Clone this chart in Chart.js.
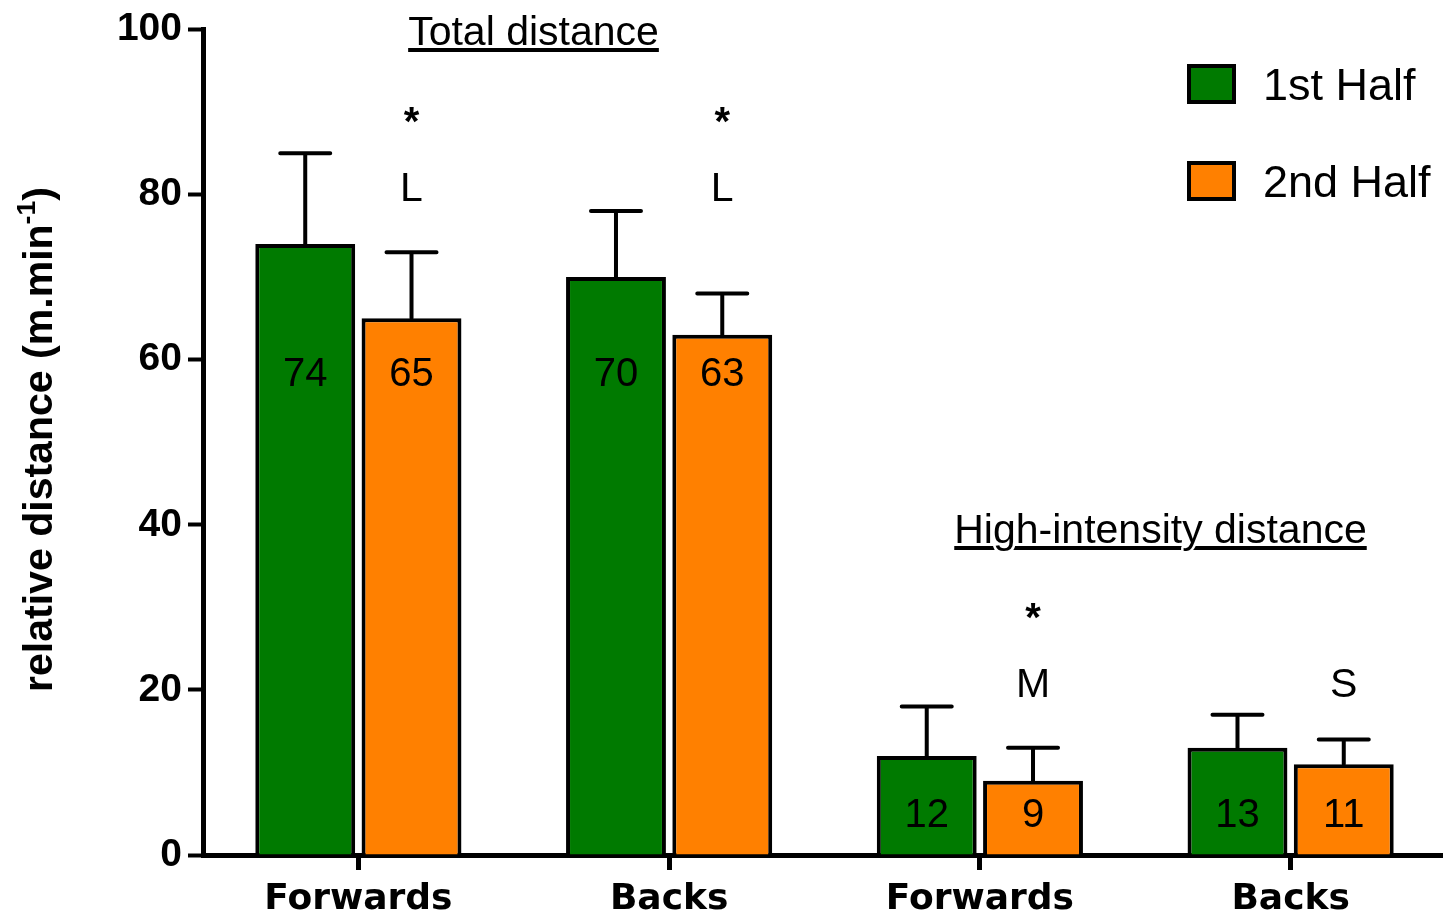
<!DOCTYPE html>
<html><head><meta charset="utf-8">
<script src="https://cdn.jsdelivr.net/npm/chart.js@4.4.0/dist/chart.umd.min.js"></script>
<style>html,body{margin:0;padding:0;background:#fff;overflow:hidden;width:1443px;height:915px}#wrap{width:1446px;height:915px}</style>
</head><body><div id="wrap"><canvas id="c" width="1446" height="915"></canvas></div>
<script>
const categories = ['Forwards', 'Backs', 'Forwards', 'Backs'];
const seriesNames = ['1st Half', '2nd Half'];
const firstHalf = [74, 70, 12, 13];
const secondHalf = [65, 63, 9, 11];
const firstHalfErr = [11, 8, 6, 4];
const secondHalfErr = [8, 5, 4, 3];
const yTicks = [0, 20, 40, 60, 80, 100];
const groupTitles = ['Total distance', 'High-intensity distance'];
const annotations = [['*', 'L'], ['*', 'L'], ['*', 'M'], ['S']];
const yTitle = 'relative distance (m.min';
const yTitleSup = '-1';

const errs = [firstHalfErr, secondHalfErr];
const GREEN = 'rgb(0,122,0)';
const ORANGE = 'rgb(255,128,0)';

const custom = {
  id: 'custom',
  afterDatasetsDraw(chart) {
    const ctx = chart.ctx, ys = chart.scales.y;
    ctx.save();
    // error bars
    chart.data.datasets.forEach((ds, di) => {
      const meta = chart.getDatasetMeta(di);
      meta.data.forEach((bar, i) => {
        const top = ys.getPixelForValue(ds.data[i]);
        const end = ys.getPixelForValue(ds.data[i] + errs[di][i]);
        ctx.beginPath();
        ctx.moveTo(bar.x, top);
        ctx.lineTo(bar.x, end);
        ctx.moveTo(bar.x - 25, end);
        ctx.lineTo(bar.x + 25, end);
        ctx.strokeStyle = '#000';
        ctx.lineWidth = 4;
        ctx.lineCap = 'round';
        ctx.stroke();
        // value label
        ctx.fillStyle = '#000';
        ctx.font = '40px "Liberation Sans", Arial, sans-serif';
        ctx.textAlign = 'center';
        ctx.textBaseline = 'alphabetic';
        const base = i < 2 ? 386 : 827;
        ctx.fillText(String(ds.data[i]), bar.x, base);
      });
    });
    // annotations above 2nd half bars
    const meta1 = chart.getDatasetMeta(1);
    ctx.textAlign = 'center';
    annotations.forEach((marks, i) => {
      const bx = meta1.data[i].x;
      const lower = i < 2 ? 201 : 697;
      const n = marks.length;
      marks.forEach((m, k) => {
        const lvl = n - 1 - k;
        let b = lower - lvl * 61;
        if (m === '*') {
          ctx.font = 'bold 40px "Liberation Sans", Arial, sans-serif';
          b -= 5;
        } else {
          ctx.font = '41px "Liberation Sans", Arial, sans-serif';
        }
        ctx.fillText(m, bx, b);
      });
    });
    // group titles
    ctx.font = '41px "Liberation Sans", Arial, sans-serif';
    const tpos = [[533.5, 45], [1160.5, 543]];
    tpos.forEach(([cx, base], gi) => {
      const t = groupTitles[gi];
      const w = ctx.measureText(t).width;
      ctx.fillStyle = '#000';
      ctx.fillRect(cx - w / 2, base + 3, w, 4);
      ctx.lineWidth = 5;
      ctx.strokeStyle = '#fff';
      ctx.lineJoin = 'round';
      ctx.strokeText(t, cx, base);
      ctx.fillText(t, cx, base);
    });
    // legend
    const lg = [[64, 100], [161, 197]];
    chart.data.datasets.forEach((ds, di) => {
      const [by, tb] = lg[di];
      ctx.fillStyle = ds.backgroundColor;
      ctx.fillRect(1187, by, 49, 40);
      ctx.strokeStyle = '#000';
      ctx.lineWidth = 4;
      ctx.lineJoin = 'miter';
      ctx.strokeRect(1189, by + 2, 45, 36);
      ctx.fillStyle = '#000';
      ctx.font = '45px "Liberation Sans", Arial, sans-serif';
      ctx.textAlign = 'left';
      ctx.fillText(ds.label, 1263, tb);
    });
    // y axis title
    ctx.save();
    ctx.translate(52, 439.5);
    ctx.rotate(-Math.PI / 2);
    const mainF = 'bold 40px "Liberation Sans", Arial, sans-serif';
    const supF = 'bold 26px "Liberation Sans", Arial, sans-serif';
    ctx.font = mainF; const w1 = ctx.measureText(yTitle).width; const w3 = ctx.measureText(')').width;
    ctx.font = supF; const w2 = ctx.measureText(yTitleSup).width;
    const W = w1 + w2 + w3;
    const s = 505 / W;
    ctx.scale(s, 1);
    ctx.textAlign = 'left';
    ctx.fillStyle = '#000';
    let x0 = -W / 2;
    ctx.font = mainF; ctx.fillText(yTitle, x0, 0);
    ctx.font = supF; ctx.fillText(yTitleSup, x0 + w1, -17);
    ctx.font = mainF; ctx.fillText(')', x0 + w1 + w2, 0);
    ctx.restore();
    ctx.restore();
  }
};

new Chart(document.getElementById('c'), {
  type: 'bar',
  data: {
    labels: categories,
    datasets: [
      { label: seriesNames[0], data: firstHalf, backgroundColor: GREEN, borderColor: '#000', borderWidth: 4 },
      { label: seriesNames[1], data: secondHalf, backgroundColor: ORANGE, borderColor: '#000', borderWidth: 4 }
    ]
  },
  options: {
    responsive: false,
    animation: false,
    layout: { padding: { top: 28, left: 0, right: 0, bottom: 0 } },
    plugins: { legend: { display: false }, tooltip: { enabled: false }, title: { display: false } },
    datasets: { bar: { categoryPercentage: 0.684, barPercentage: 0.94 } },
    scales: {
      x: {
        grid: { display: true, offset: false, drawOnChartArea: false, drawTicks: true, tickLength: 15, tickWidth: 5, tickColor: '#000' },
        border: { display: true, color: '#000', width: 5 },
        ticks: { color: '#000', font: { family: '"DejaVu Sans"', weight: 'bold', size: 36 }, padding: 8, maxRotation: 0, autoSkip: false },
        afterFit(s) { s.height = 60; }
      },
      y: {
        min: 0, max: 100,
        afterBuildTicks(s) { s.ticks = yTicks.map(v => ({ value: v })); },
        grid: { display: true, drawOnChartArea: false, drawTicks: true, tickLength: 15, tickWidth: 4, tickColor: '#000' },
        border: { display: true, color: '#000', width: 5 },
        ticks: { color: '#000', font: { family: '"Liberation Sans"', weight: 'bold', size: 39 }, padding: 6 },
        afterFit(s) { s.width = 203; }
      }
    }
  },
  plugins: [custom]
});
</script>
</body></html>
